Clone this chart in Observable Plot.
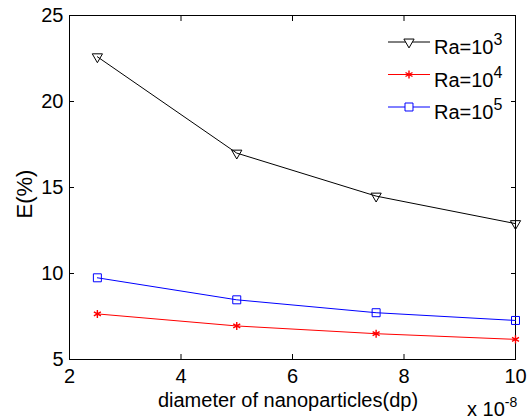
<!DOCTYPE html>
<html><head><meta charset="utf-8">
<script src="https://cdn.jsdelivr.net/npm/d3@7"></script>
<script src="https://cdn.jsdelivr.net/npm/@observablehq/plot@0.6"></script>
<style>
body{margin:0;background:#fff}
#chart{position:relative;width:530px;height:420px}
</style>
</head><body><div id="chart"></div>
<script>
// diameter of nanoparticles, in units of 10^-8
const diameters = [2.5, 5, 7.5, 10];
const seriesNames = ["Ra=10^3", "Ra=10^4", "Ra=10^5"];
const seriesBase = ["Ra=10", "Ra=10", "Ra=10"];
const seriesExp = ["3", "4", "5"];
const ra3 = [22.6, 17.0, 14.5, 12.9];
const ra4 = [7.65, 6.95, 6.5, 6.17];
const ra5 = [9.75, 8.47, 7.72, 7.27];
const xTicks = [2, 4, 6, 8, 10];
const yTicks = [5, 10, 15, 20, 25];
const colors = ["#000000", "#ff0000", "#0000ff"];
const symbols = ["triangle", "asterisk", "square"];
const xLabel = "diameter of nanoparticles(dp)";
const yLabel = "E(%)";
const xScaleBase = "x 10";
const xScaleExp = "-8";

const values = [ra3, ra4, ra5];
const rows = [];
seriesNames.forEach((s, i) => diameters.forEach((d, j) => rows.push({x: d, y: values[i][j], s, i})));

const font = "'Liberation Sans', Arial, Helvetica, sans-serif";
const radii = [3.8, 3.8, 4.5];
const marks = [
  Plot.frame({stroke: "black", strokeWidth: 1}),
  Plot.axisX(xTicks, {anchor: "bottom", tickSize: 0, tickPadding: 9, label: null, fontSize: 20}),
  Plot.axisY(yTicks, {anchor: "left", tickSize: 0, tickPadding: 6, label: null, fontSize: 20}),
  Plot.axisX(xTicks, {anchor: "bottom", tickSize: -5, tickFormat: () => "", label: null}),
  Plot.axisX(xTicks, {anchor: "top", tickSize: -5, tickFormat: () => "", label: null}),
  Plot.axisY(yTicks, {anchor: "left", tickSize: -5, tickFormat: () => "", label: null}),
  Plot.axisY(yTicks, {anchor: "right", tickSize: -5, tickFormat: () => "", label: null})
];
seriesNames.forEach((s, i) => {
  const data = rows.filter(r => r.i === i);
  marks.push(Plot.line(data, {x: "x", y: "y", stroke: colors[i], strokeWidth: 1}));
  marks.push(Plot.dot(data, {x: "x", y: "y", stroke: colors[i], fill: i === 1 ? colors[i] : "none",
    symbol: symbols[i], r: radii[i], rotate: i === 0 ? 180 : 0, strokeWidth: i === 1 ? 1.4 : 1}));
});

const plot = Plot.plot({
  width: 530, height: 420,
  marginLeft: 69, marginRight: 15, marginTop: 15, marginBottom: 61,
  style: {fontFamily: font, fontSize: "20px", background: "white", color: "black"},
  x: {domain: [2, 10]},
  y: {domain: [5, 25]},
  marks
});
document.getElementById("chart").appendChild(plot);

const svg = d3.select(plot);
// axis titles
svg.append("text").attr("x", 288).attr("y", 407).attr("text-anchor", "middle")
  .attr("font-family", font).attr("font-size", 20).attr("fill", "black").text(xLabel);
svg.append("text").attr("transform", "translate(32,194) rotate(-90)").attr("text-anchor", "middle")
  .attr("font-family", font).attr("font-size", 22).attr("fill", "black").text(yLabel);
const xs = svg.append("text").attr("x", 467).attr("y", 416).attr("text-anchor", "start")
  .attr("font-family", font).attr("font-size", 20).attr("fill", "black");
xs.append("tspan").text(xScaleBase);
xs.append("tspan").attr("font-size", 14).attr("dy", -9).text(xScaleExp);

// legend
const lg = svg.append("g");
seriesNames.forEach((s, i) => {
  const y = 42 + i * 32.5;
  lg.append("line").attr("x1", 388).attr("x2", 430).attr("y1", y).attr("y2", y).attr("stroke", colors[i]);
  const sym = symbols[i] === "triangle" ? d3.symbolTriangle : symbols[i] === "asterisk" ? d3.symbolAsterisk : d3.symbolSquare;
  const rr = radii[i];
  lg.append("path").attr("d", d3.symbol(sym, Math.PI * rr * rr)())
    .attr("transform", `translate(409,${y}) rotate(${i === 0 ? 180 : 0})`)
    .attr("fill", i === 1 ? colors[i] : "white").attr("stroke", colors[i])
    .attr("stroke-width", i === 1 ? 1.4 : 1);
  const t = lg.append("text").attr("x", 434).attr("y", y + 12).attr("text-anchor", "start")
    .attr("font-family", font).attr("font-size", 20).attr("fill", "black");
  t.append("tspan").text(seriesBase[i]);
  t.append("tspan").attr("font-size", 16).attr("dy", -9).text(seriesExp[i]);
});
</script>
</body></html>
